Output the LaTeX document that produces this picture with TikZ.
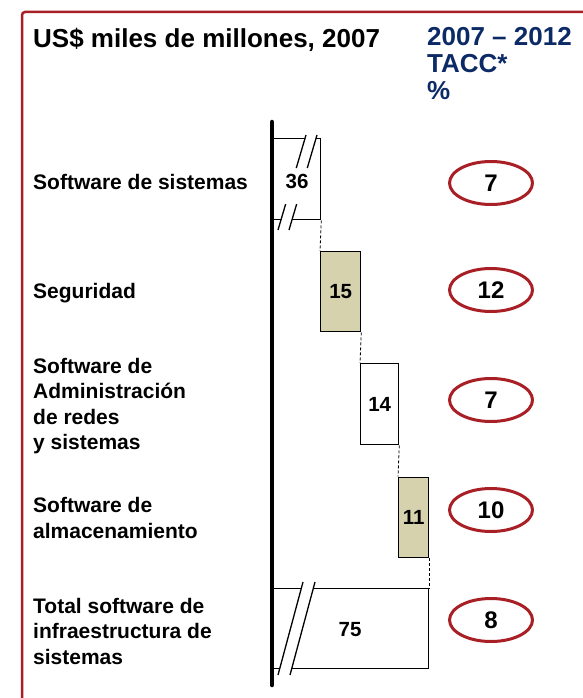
\documentclass[tikz,border=0pt]{standalone}
\usepackage{fontspec}
\setmainfont{Liberation Sans}
\usetikzlibrary{shapes.geometric}

\newcommand{\axisx}{272}
\newcommand{\ovalx}{491}
\newcommand{\labelx}{33}
\definecolor{frame red}{RGB}{168,32,38}
\definecolor{header blue}{RGB}{12,42,102}
\definecolor{bar khaki}{RGB}{214,210,174}

\begin{document}
\begin{tikzpicture}[
    x=1pt, y=-1pt,
    title font/.style={font=\fontsize{26}{26.8}\selectfont\bfseries},
    label font/.style={font=\fontsize{21}{25.5}\selectfont\bfseries},
    value font/.style={font=\fontsize{20.5}{24}\selectfont\bfseries},
    rate font/.style={font=\fontsize{24}{26}\selectfont\bfseries},
    bar/.style={draw, line width=1.3pt, rectangle, inner sep=0pt, anchor=north west, value font},
    rate oval/.style={ellipse, draw=frame red, line width=3pt, fill=white, inner sep=0pt,
        minimum width=83pt, minimum height=43pt, rate font},
    link/.style={dash pattern=on 3pt off 2pt, line width=0.8pt}
]

\useasboundingbox (0,0) rectangle (582,698);

% FRAME
\draw[frame red, line width=2.5pt, rounded corners=3pt] (22,705) -- (22,12) -- (590,12);

% HEADERS
\node[title font, anchor=base west, inner sep=0pt] (unit_title) at (\labelx,48) {US\$ miles de millones, 2007};
\node[title font, header blue, anchor=north west, align=left, inner sep=0pt] (rate_title) at (427,27.5) {2007 -- 2012\\TACC*\\\%};

% BARS
\node[bar, minimum width=48pt, minimum height=81pt] (soft) at (\axisx,138) {};
\node[bar, fill=bar khaki, minimum width=40pt, minimum height=80pt] (segu) at (320,251) {15};
\node[bar, minimum width=38pt, minimum height=81pt] (admin) at (360,363) {14};
\node[bar, fill=bar khaki, minimum width=30pt, minimum height=80pt] (almac) at (398,476.5) {11};
\node[bar, minimum width=156pt, minimum height=80pt] (total) at (\axisx,588) {};

% Breaks
\def\softcuta{(306,135) -- (278,230)}
\def\softcutb{(317,135) -- (289,230)}
\def\totalcuta{(303,582) -- (278,675)}
\def\totalcutb{(315,582) -- (290,675)}

\fill[white] (306,135) -- (317,135) -- (289,230) -- (278,230) -- cycle;
\fill[white] (303,582) -- (315,582) -- (290,675) -- (278,675) -- cycle;

\begin{scope}
    \clip (250,130) rectangle (330,168) (250,204) rectangle (330,235);
    \draw[line width=1.3pt] \softcuta;
    \draw[line width=1.3pt] \softcutb;
\end{scope}
\draw[line width=1.3pt] \totalcuta;
\draw[line width=1.3pt] \totalcutb;

\node[value font] (soft_value) at (297,181) {36};
\node[value font] (total_value) at (350,630) {75};

% Links
\draw[link] (soft.south east) -- (segu.north west);
\draw[link] (segu.south east) -- (admin.north west);
\draw[link] (admin.south east) -- (almac.north west);
\draw[link] (almac.south east) -- (total.north east);

% AXIS
\draw[line width=4.5pt, line cap=round] (\axisx,122) -- (\axisx,685);

% LABELS
\node[label font, anchor=west, align=left, inner sep=0pt] (soft_label) at (\labelx,182) {Software de sistemas};
\node[label font, anchor=west, align=left, inner sep=0pt] (segu_label) at (\labelx,293) {Seguridad};
\node[label font, anchor=west, align=left, inner sep=0pt] (admin_label) at (\labelx,406) {Software de\\Administración\\de redes\\y sistemas};
\node[label font, anchor=west, align=left, inner sep=0pt] (almac_label) at (\labelx,518) {Software de\\almacenamiento};
\node[label font, anchor=west, align=left, inner sep=0pt] (total_label) at (\labelx,631) {Total software de\\infraestructura de\\sistemas};

% RATES
\node[rate oval] (soft_rate) at (\ovalx,183) {7};
\node[rate oval] (segu_rate) at (\ovalx,290) {12};
\node[rate oval] (admin_rate) at (\ovalx,400) {7};
\node[rate oval] (almac_rate) at (\ovalx,510) {10};
\node[rate oval] (total_rate) at (\ovalx,620) {8};

\end{tikzpicture}
\end{document}
